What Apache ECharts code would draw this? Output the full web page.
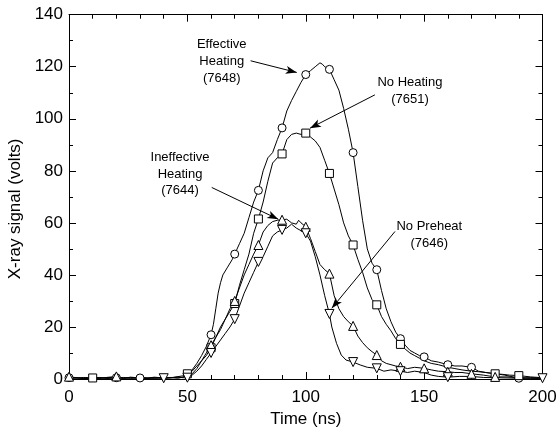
<!DOCTYPE html>
<html>
<head>
<meta charset="utf-8">
<script src="https://cdn.jsdelivr.net/npm/echarts@6/dist/echarts.min.js"></script>
<style>
html,body{margin:0;padding:0;background:#fff;}
#c{width:556px;height:434px;}
</style>
</head>
<body>
<div id="c"></div>
<script>
// ---- data (time in ns, signal in volts) ----
const effective7648 = [[0,0.5],[3,0.3],[6,0.6],[10,0.4],[13,0.2],[16,0.6],[20,0.5],[23,0.3],[26,0.7],[30,0.4],[33,0.5],[36,0.2],[40,0.6],[43,0.4],[46,0.8],[48,0.5],[50,1],[52,3.5],[54,6],[56,9],[58,12.5],[60,17],[61,21],[62,27],[63,33],[64,37],[65,40],[67,43],[69,46],[70,48],[72,52],[74,56],[76,62],[78,68],[80,72.5],[82,80],[84,85],[86,87],[88,92],[90,96.5],[92,103],[94,107],[96,110.5],[98,114],[100,117],[102,118.5],[104,120],[106,121.5],[107,121],[108,120],[110,119],[112,115],[114,111],[116,104],[118,96],[120,87],[122,74],[124,61],[126,50],[128,44.5],[130,42],[132,34],[134,27],[136,22],[138,18],[140,15.5],[142,13],[144,11],[146,10],[148,9],[150,8.5],[153,7],[156,6.5],[160,5.5],[163,5],[166,5],[170,4.5],[173,3],[176,2.5],[180,2],[184,1.5],[188,0.7],[190,0.3],[195,0.5],[200,0.3]];
const noHeating7651 = [[0,0.3],[3,0.5],[6,0.2],[10,0.4],[13,0.6],[16,0.3],[20,0.5],[23,0.2],[26,0.6],[30,0.4],[33,0.3],[36,0.7],[40,0.4],[43,0.5],[46,0.9],[48,1.2],[50,2],[52,3],[54,5],[56,7],[58,9],[60,12],[62,16],[64,20],[66,23],[68,26],[70,29],[72,36],[74,42],[76,48],[78,56],[80,61.5],[82,68],[84,76],[86,83],[88,85],[90,86.5],[92,92],[94,94],[96,94.5],[98,94],[100,94.5],[102,93],[104,91.5],[106,89],[108,84],[110,79],[112,73],[114,67],[116,60],[118,55],[120,51.5],[122,46],[124,41],[126,35],[128,30.5],[130,28.5],[132,24],[134,21],[136,18.5],[138,15.5],[140,13.3],[142,11.5],[144,10],[146,9],[148,8],[150,7],[153,6],[156,5.5],[160,4.5],[163,4],[166,3.5],[170,3],[173,2.8],[176,2.5],[180,2],[183,1.8],[186,1.5],[190,1.3],[195,0.8],[200,0.5]];
const ineffective7644 = [[0,0.9],[3,0.5],[6,0.3],[10,0.5],[13,0.3],[16,0.6],[20,1],[23,0.4],[26,0.3],[30,0.5],[33,0.2],[36,0.5],[40,0.3],[43,0.6],[46,0.4],[48,0.7],[50,0.8],[52,2],[54,4],[56,7],[58,10],[60,13],[62,16],[64,19],[66,23],[68,27],[70,30],[72,35],[74,40],[76,44],[78,48],[80,51.5],[82,56.5],[84,59],[86,60.5],[88,61],[90,61.2],[92,61.4],[94,60],[96,59.5],[97,61],[98,60],[100,58.5],[102,54],[104,49],[106,44],[108,42],[110,40.5],[112,32],[114,27],[116,24],[118,22],[120,20.4],[122,16.5],[124,14],[126,12],[128,10.5],[130,9.2],[132,7],[134,6],[136,5.5],[138,5],[140,4.7],[143,4],[146,4.5],[150,4.1],[153,3.5],[156,3],[160,2.8],[163,2.5],[166,2.5],[170,2],[175,1.5],[180,0.8],[185,0.8],[190,0.5],[195,0.3],[200,0.3]];
const noPreheat7646 = [[0,0.3],[3,0.5],[6,0.2],[10,0.4],[13,0.5],[16,0.2],[20,0.4],[23,0.6],[26,0.3],[30,0.4],[33,0.2],[36,0.5],[40,0.3],[43,0.5],[46,0.4],[48,0.6],[50,0.5],[52,1.5],[54,3],[56,5],[58,7.5],[60,10],[62,12.5],[64,15],[66,17.5],[68,20],[70,23],[72,28],[74,33],[76,37],[78,41],[80,45],[82,47],[84,51],[86,55],[88,56.5],[90,57.3],[92,58],[94,59.5],[96,58],[98,57],[100,56],[102,53],[104,47],[106,40],[108,32],[110,25],[111,20],[113,13.7],[115,9.2],[117,7.3],[120,6.5],[123,5.4],[126,4.5],[130,4.1],[133,3],[136,3.5],[140,3],[143,2.5],[146,3],[150,2.5],[153,1.5],[156,1],[160,0.7],[165,1],[170,1],[175,0.6],[180,0.5],[185,0.4],[190,0.3],[195,0.3],[200,0.3]];

// times at which a marker is drawn on each trace
const effMarks = [0,20,30,60,70,80,90,100,110,120,130,140,150,160,170,190];
const noHeatMarks = [10,50,60,70,80,90,100,110,120,130,140,180,190];
const ineffMarks = [0,20,60,70,80,90,100,110,120,130,140,150,160,170,180];
const noPreMarks = [40,50,60,70,80,90,100,110,120,130,140,160,200];

// annotations: label text, label anchor [t, v], arrow start [t, v], arrow tip [t, v]
const annoText = ['Effective\nHeating\n(7648)', 'No Heating\n(7651)', 'Ineffective\nHeating\n(7644)', 'No Preheat\n(7646)'];
const annoLabelAt = [[64.5,122.1],[144,110.6],[46.9,78.7],[152.2,55.3]];
const annoFrom = [[76.7,122.3],[129.2,109.2],[60.3,73.6],[137.7,56.7]];
const annoTo = [[96.2,117.8],[101.8,96.4],[88.4,61.4],[111,27.2]];

const xTicks = {min:0, max:200, interval:50};
const yTicks = {min:0, max:140, interval:20};
const xTitle = 'Time (ns)';
const yTitle = 'X-ray signal (volts)';

const FONT = '"Liberation Sans", Arial, sans-serif';
const chart = echarts.init(document.getElementById('c'), null, {renderer:'canvas'});

function markerFn(list, shape){
  return function(v){ return list.indexOf(v[0]) >= 0 ? shape : 'none'; };
}
function lineSeries(name, data, marks, shape, size){
  return {
    name: name, type:'line', data: data,
    showAllSymbol: true,
    symbol: markerFn(marks, shape),
    symbolSize: size,
    lineStyle:{color:'#000', width:1},
    itemStyle:{color:'#fff', borderColor:'#000', borderWidth:1},
    emphasis:{disabled:true},
    animation:false,
    z: 3
  };
}
const triPath = 'path://M5,0 L10,9 L0,9 Z';
const downTriPath = 'path://M0,0 L10,0 L5,9 Z';

function axisStyle(split){
  return {
    axisLine:{show:true, onZero:false, lineStyle:{color:'#000', width:1}},
    axisTick:{show:true, inside:true, length:7, lineStyle:{color:'#000'}},
    minorTick:{show:true, splitNumber:split, length:4, lineStyle:{color:'#000'}},
    splitLine:{show:false}
  };
}

const series = [
  lineSeries('Effective Heating (7648)', effective7648, effMarks, 'circle', 8),
  lineSeries('No Heating (7651)', noHeating7651, noHeatMarks, 'rect', 8),
  lineSeries('Ineffective Heating (7644)', ineffective7644, ineffMarks, triPath, 9),
  lineSeries('No Preheat (7646)', noPreheat7646, noPreMarks, downTriPath, 9)
];
// arrows
series.push({
  type:'line', data:[], silent:true, animation:false,
  markLine:{
    silent:true, animation:false,
    symbol:['none','arrow'], symbolSize:[6,11],
    lineStyle:{color:'#000', width:1, type:'solid'},
    label:{show:false},
    emphasis:{disabled:true},
    data: annoFrom.map((f,i)=>[{coord:f},{coord:annoTo[i]}])
  }
});

chart.setOption({
  backgroundColor:'#fff',
  animation:false,
  grid:{left:69, right:13.5, top:14.7, bottom:55, outerBoundsMode:'none', containLabel:false},
  xAxis:[
    Object.assign({type:'value', position:'bottom', min:xTicks.min, max:xTicks.max, interval:xTicks.interval,
      name:xTitle, nameLocation:'middle', nameGap:28,
      nameTextStyle:{color:'#000', fontFamily:FONT, fontSize:17},
      axisLabel:{color:'#000', fontFamily:FONT, fontSize:17, margin:10}}, axisStyle(5)),
    Object.assign({type:'value', position:'top', min:xTicks.min, max:xTicks.max, interval:xTicks.interval,
      axisLabel:{show:false}}, axisStyle(5))
  ],
  yAxis:[
    Object.assign({type:'value', position:'left', min:yTicks.min, max:yTicks.max, interval:yTicks.interval,
      name:yTitle, nameLocation:'middle', nameGap:40, nameRotate:90,
      nameTextStyle:{color:'#000', fontFamily:FONT, fontSize:17, padding:[0,24,0,0]},
      axisLabel:{color:'#000', fontFamily:FONT, fontSize:17, margin:6}}, axisStyle(2)),
    Object.assign({type:'value', position:'right', min:yTicks.min, max:yTicks.max, interval:yTicks.interval,
      axisLabel:{show:false}}, axisStyle(2))
  ],
  series: series
});

// annotation labels placed at data coordinates
const graphics = annoLabelAt.map((c,i)=>{
  const p = chart.convertToPixel({gridIndex:0}, c);
  return {type:'text', x:p[0], y:p[1], silent:true, z:10,
    style:{text:annoText[i], fill:'#000', font:'13px '+FONT, lineHeight:16.7, align:'center', verticalAlign:'middle'}};
});
chart.setOption({graphic: graphics});
</script>
</body>
</html>
